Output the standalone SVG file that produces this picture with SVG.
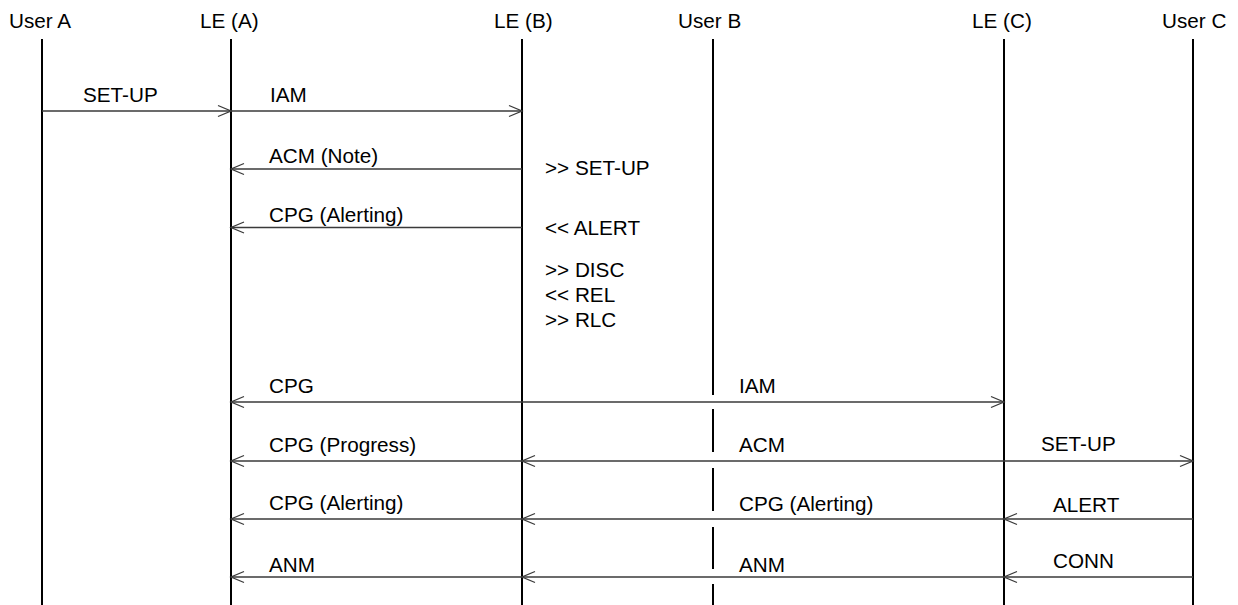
<svg xmlns="http://www.w3.org/2000/svg" width="1238" height="605" viewBox="0 0 1238 605">
<style>
.t{font-family:"Liberation Sans",Arial,sans-serif;font-size:20.7px;fill:#000}
.life{stroke:#000;stroke-width:2;fill:none}
.msg{stroke:#3a3a3a;stroke-width:1.3;fill:none;marker-end:url(#ah)}
</style>
<defs>
<marker id="ah" markerUnits="userSpaceOnUse" markerWidth="16" markerHeight="14" refX="13" refY="6" orient="auto" overflow="visible">
<path d="M0,0.5 L13,6 L0,11.5" fill="none" stroke="#3a3a3a" stroke-width="1.3"/>
</marker>
</defs>
<rect width="1238" height="605" fill="#fff"/>
<g id="userA"><text class="t" x="9" y="28">User A</text><line class="life" x1="42" y1="39" x2="42" y2="605"/></g>
<g id="leA"><text class="t" x="200" y="28">LE (A)</text><line class="life" x1="231" y1="39" x2="231" y2="605"/></g>
<g id="leB"><text class="t" x="494" y="28">LE (B)</text><line class="life" x1="522" y1="39" x2="522" y2="605"/></g>
<g id="userB"><text class="t" x="678" y="28">User B</text><path class="life" d="M713,39 V395 M713,409 V452 M713,468 V511 M713,527 V569 M713,584 V605"/></g>
<g id="leC"><text class="t" x="972" y="28">LE (C)</text><line class="life" x1="1004" y1="39" x2="1004" y2="605"/></g>
<g id="userC"><text class="t" x="1162" y="28">User C</text><line class="life" x1="1193" y1="39" x2="1193" y2="605"/></g>
<g id="connectors">
<line class="msg" x1="42" y1="111" x2="231" y2="111"/>
<line class="msg" x1="231" y1="111" x2="522" y2="111"/>
<line class="msg" x1="522" y1="169" x2="231" y2="169"/>
<line class="msg" x1="522" y1="227.5" x2="231" y2="227.5"/>
<line class="msg" x1="522" y1="402" x2="231" y2="402"/>
<line class="msg" x1="522" y1="402" x2="1004" y2="402"/>
<line class="msg" x1="522" y1="461" x2="231" y2="461"/>
<line class="msg" x1="1004" y1="461" x2="522" y2="461"/>
<line class="msg" x1="1004" y1="461" x2="1193" y2="461"/>
<line class="msg" x1="522" y1="519" x2="231" y2="519"/>
<line class="msg" x1="1004" y1="519" x2="522" y2="519"/>
<line class="msg" x1="1193" y1="519" x2="1004" y2="519"/>
<line class="msg" x1="522" y1="577" x2="231" y2="577"/>
<line class="msg" x1="1004" y1="577" x2="522" y2="577"/>
<line class="msg" x1="1193" y1="577" x2="1004" y2="577"/>
</g>
<g id="labels">
<text class="t" x="83" y="101.5">SET-UP</text>
<text class="t" x="270" y="101.5">IAM</text>
<text class="t" x="269" y="163">ACM (Note)</text>
<text class="t" x="269" y="221.5">CPG (Alerting)</text>
<text class="t" x="545" y="175">&gt;&gt; SET-UP</text>
<text class="t" x="545" y="235">&lt;&lt; ALERT</text>
<text class="t" x="545" y="276.5">&gt;&gt; DISC</text>
<text class="t" x="545" y="301.5">&lt;&lt; REL</text>
<text class="t" x="545" y="326.5">&gt;&gt; RLC</text>
<text class="t" x="269" y="393">CPG</text>
<text class="t" x="739" y="393">IAM</text>
<text class="t" x="269" y="451.5">CPG (Progress)</text>
<text class="t" x="739" y="451.5">ACM</text>
<text class="t" x="1041" y="451">SET-UP</text>
<text class="t" x="269" y="510">CPG (Alerting)</text>
<text class="t" x="739" y="511">CPG (Alerting)</text>
<text class="t" x="1053" y="511.5">ALERT</text>
<text class="t" x="269" y="571.5">ANM</text>
<text class="t" x="739" y="571.5">ANM</text>
<text class="t" x="1053" y="568">CONN</text>
</g>
</svg>
